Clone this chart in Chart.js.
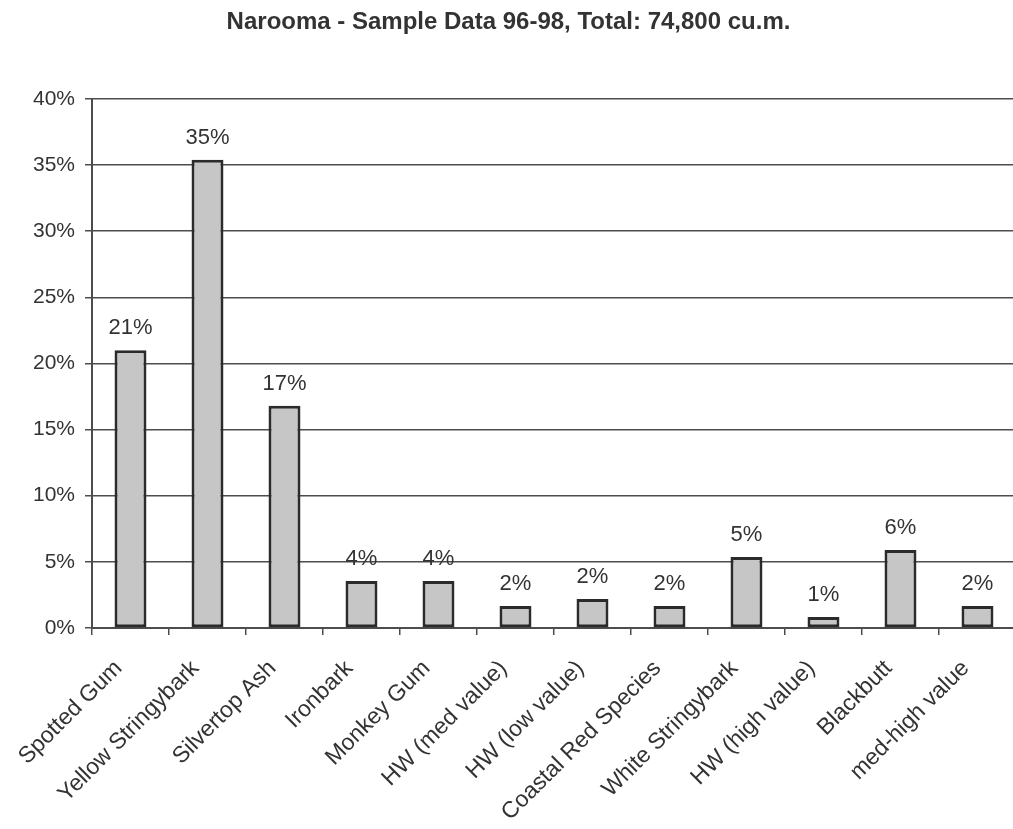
<!DOCTYPE html>
<html>
<head>
<meta charset="utf-8">
<title>Narooma - Sample Data 96-98</title>
<script src="https://cdn.jsdelivr.net/npm/chart.js@4.4.1/dist/chart.umd.min.js"></script>
<style>
    html, body { margin: 0; padding: 0; background: #fff; overflow: hidden; }
    #wrap { position: relative; width: 1017px; height: 829px; }
</style>
</head>
<body>
<div id="wrap"><canvas id="chart"></canvas></div>
<script>
// species groups and their share of the total volume (%)
const species = [
    'Spotted Gum', 'Yellow Stringybark', 'Silvertop Ash', 'Ironbark',
    'Monkey Gum', 'HW (med value)', 'HW (low value)', 'Coastal Red Species',
    'White Stringybark', 'HW (high value)', 'Blackbutt', 'med-high value'
];
const shares = [21.0, 35.4, 16.8, 3.55, 3.55, 1.66, 2.2, 1.66, 5.37, 0.83, 5.9, 1.66];
const yTickValues = [0, 5, 10, 15, 20, 25, 30, 35, 40];

const FONT = '"Liberation Sans", Arial, Helvetica, sans-serif';
const INK = '#333333';
const LINE = '#4d4d4d';

// percentage written above each bar
const barLabels = {
    id: 'barLabels',
    afterDatasetsDraw(chart) {
        const ctx = chart.ctx;
        const meta = chart.getDatasetMeta(0);
        ctx.save();
        ctx.font = '22px ' + FONT;
        ctx.fillStyle = INK;
        ctx.textAlign = 'center';
        ctx.textBaseline = 'bottom';
        meta.data.forEach((bar, i) => {
            ctx.fillText(Math.round(shares[i]) + '%', bar.x, bar.y - 11);
        });
        ctx.restore();
    }
};

new Chart(document.getElementById('chart'), {
    type: 'bar',
    data: {
        labels: species,
        datasets: [{
            data: shares,
            backgroundColor: '#c6c6c6',
            borderColor: '#2b2b2b',
            borderWidth: 3,
            borderSkipped: false,
            barPercentage: 0.415,
            categoryPercentage: 1
        }]
    },
    options: {
        responsive: true,
        maintainAspectRatio: false,
        animation: false,
        layout: { padding: 0 },
        plugins: {
            legend: { display: false },
            tooltip: { enabled: false },
            title: {
                display: true,
                text: 'Narooma - Sample Data 96-98, Total: 74,800 cu.m.',
                color: INK,
                font: { family: FONT, size: 24, weight: 'bold' },
                padding: { top: 8, bottom: 62 }
            }
        },
        scales: {
            x: {
                afterFit(scale) { scale.height = 201; },
                grid: {
                    offset: true,
                    drawOnChartArea: false,
                    drawTicks: true,
                    tickLength: 7,
                    color: LINE,
                    lineWidth: 1.5
                },
                border: { color: LINE, width: 2 },
                ticks: {
                    color: INK,
                    font: { family: FONT, size: 23 },
                    minRotation: 45,
                    maxRotation: 45,
                    padding: 20,
                    labelOffset: -12,
                    autoSkip: false
                }
            },
            y: {
                min: 0,
                max: 40,
                afterFit(scale) { scale.width = 92; },
                afterBuildTicks(scale) {
                    scale.ticks = yTickValues.map(v => ({ value: v }));
                },
                grid: {
                    color: LINE,
                    lineWidth: 1.5,
                    tickLength: 7
                },
                border: { color: LINE, width: 2 },
                ticks: {
                    color: INK,
                    font: { family: FONT, size: 21 },
                    padding: 10,
                    callback: v => v + '%'
                }
            }
        }
    },
    plugins: [barLabels]
});
</script>
</body>
</html>
